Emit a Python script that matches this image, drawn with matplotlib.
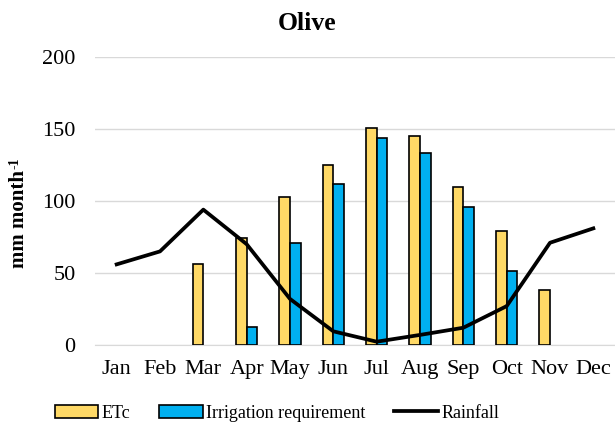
import numpy as np
import matplotlib
matplotlib.use("Agg")
import matplotlib.pyplot as plt
from matplotlib.patches import Patch
from matplotlib.lines import Line2D

months = ["Jan", "Feb", "Mar", "Apr", "May", "Jun", "Jul", "Aug", "Sep", "Oct", "Nov", "Dec"]
etc = [np.nan, np.nan, 56, 74, 103, 125, 151, 145, 110, 79, 38, np.nan]
irr = [np.nan, np.nan, np.nan, 12.5, 71, 112, 144, 133.5, 96, 51.5, np.nan, np.nan]
rain = [56, 65, 94, 70, 32, 9.5, 2.3, 7, 12, 27, 71, 81]

plt.rcParams["font.family"] = ["Liberation Serif", "DejaVu Serif"]

fig = plt.figure(figsize=(6.15, 4.34), dpi=100)
ax = fig.add_axes([95/615, 1-345/434, 520/615, 288/434])

x = np.arange(len(months))
w = 0.245
ax.bar(x - w/2, etc, w, color="#FFD966", edgecolor="black", lw=1.2, zorder=3)
ax.bar(x + w/2, irr, w, color="#00B0F0", edgecolor="black", lw=1.2, zorder=3)
ax.plot(x, rain, color="black", lw=2.7, zorder=4)

ax.set_xlim(-0.5, 11.5)
ax.set_ylim(0, 200)
ax.set_yticks([0, 50, 100, 150, 200])
ax.set_xticks(x)
ax.set_xticklabels(months)
ax.tick_params(length=0, labelsize=16)
ax.tick_params(axis="x", pad=11)
ax.tick_params(axis="y", pad=14)
ax.grid(axis="y", color="#d9d9d9", lw=1, zorder=0)
for s in ["top", "right", "left"]:
    ax.spines[s].set_visible(False)
ax.spines["bottom"].set_color("#d9d9d9")

# y label with a small text-style superscript placed after the main text
lab = fig.text(19/615, 1-268/434, "mm month", rotation=90, ha="center", va="bottom",
               fontsize=15, fontweight="bold")
fig.canvas.draw()
ax.annotate("-1", xy=(0, 1), xycoords=lab, xytext=(0, 1), textcoords="offset points",
            rotation=90, ha="left", va="bottom", fontsize=10, fontweight="bold",
            annotation_clip=False)
fig.text(0.5, 1-23/434, "Olive", ha="center", va="center", fontsize=18.5, fontweight="bold")

handles = [Patch(facecolor="#FFD966", edgecolor="black", lw=1.2, label="ETc"),
           Patch(facecolor="#00B0F0", edgecolor="black", lw=1.2, label="Irrigation requirement"),
           Line2D([0], [0], color="black", lw=2.7, label="Rainfall")]
fig.legend(handles=handles, loc="center", bbox_to_anchor=(277/615, 1-413/434), ncol=3,
           frameon=False, fontsize=13, handlelength=2.4, handleheight=0.75,
           handletextpad=0.2, columnspacing=1.6)

fig.savefig("out.png", dpi=100)
